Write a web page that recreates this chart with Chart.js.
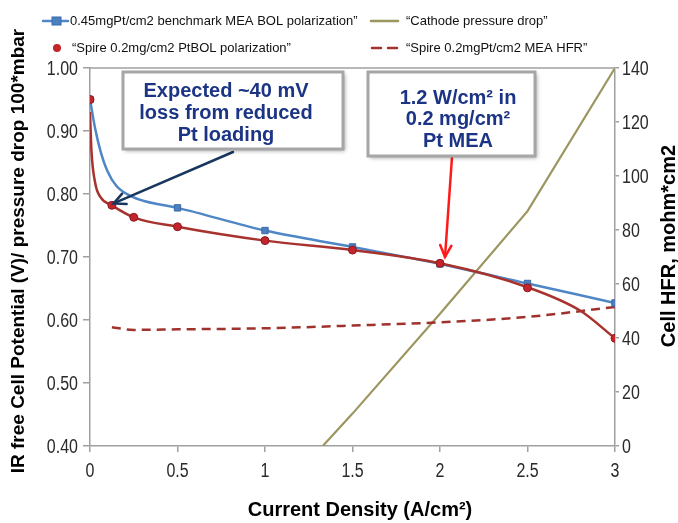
<!DOCTYPE html>
<html><head><meta charset="utf-8">
<script src="https://cdn.jsdelivr.net/npm/chart.js@4.4.1/dist/chart.umd.min.js"></script>
<style>html,body{margin:0;padding:0;background:#fff}#wrap{width:678px;height:523px;position:relative}</style>
</head><body><div id="wrap"><canvas id="c" width="678" height="523"></canvas></div>
<script>
// ---- data ----
const xTicks = [0, 0.5, 1, 1.5, 2, 2.5, 3];
const yLeftTicks = [0.40, 0.50, 0.60, 0.70, 0.80, 0.90, 1.00];
const yRightTicks = [0, 20, 40, 60, 80, 100, 120, 140];

const benchX = [0, 0.03, 0.06, 0.1, 0.15, 0.23, 0.32, 0.5, 1, 1.5, 2, 2.5, 3];
const benchV = [0.95, 0.903, 0.868, 0.836, 0.813, 0.797, 0.788, 0.778, 0.742, 0.716, 0.689, 0.658, 0.627];
const benchMarked = [1, 0, 0, 0, 0, 0, 0, 1, 1, 1, 1, 1, 1];

const spireX = [0, 0.125, 0.25, 0.5, 1, 1.5, 2, 2.5, 3];
const spireV = [0.95, 0.782, 0.763, 0.748, 0.726, 0.711, 0.690, 0.651, 0.571];

const spireFitX = [0, 0.008, 0.03, 0.06, 0.125, 0.25, 0.5, 1, 1.5, 2, 2.5, 2.8, 3];
const spireFitV = [0.93, 0.87, 0.817, 0.795, 0.782, 0.763, 0.748, 0.726, 0.711, 0.690, 0.652, 0.615, 0.571];

const hfrX = [0.125, 0.25, 0.5, 1, 1.5, 2, 2.5, 3];
const hfrV = [44, 43, 43.2, 43.6, 44.6, 45.8, 47.8, 51.5];

const dpX = [1.33, 1.5, 2, 2.5, 3];
const dpV = [0, 12, 49, 87, 140];

const legendLabels = [
  '0.45mgPt/cm2 benchmark MEA BOL polarization\u201D',
  '\u201CCathode pressure drop\u201D',
  '\u201CSpire 0.2mg/cm2 PtBOL polarization\u201D',
  '\u201CSpire 0.2mgPt/cm2 MEA HFR\u201D'
];
const note1 = ['Expected ~40 mV', 'loss from reduced', 'Pt loading'];
const note2 = ['1.2 W/cm\u00B2 in', '0.2 mg/cm\u00B2', 'Pt MEA'];
const xTitle = 'Current Density (A/cm\u00B2)';
const yTitle = 'IR free Cell Potential (V)/ pressure drop 100*mbar';
const y2Title = 'Cell HFR, mohm*cm2';

// ---- styles ----
const BLUE = '#4f86c6', BLUE_M = '#4a7fc0', RED_L = '#a8322d', RED_M = '#c4242c', OLIVE = '#9d9560', HFR = '#a0322e';
const NAVY = '#1c3484';
const zip = (xs, ys) => xs.map((x, i) => ({x, y: ys[i]}));
const tickFont = {family: "'Liberation Sans',Arial,sans-serif", size: 20};
const fmtX = v => String(v), fmtY = v => v.toFixed(2), fmtY2 = v => String(v);

const overlay = {
  id: 'overlay',
  afterDatasetsDraw(chart) {
    const {ctx, chartArea: a, scales} = chart;
    const X = scales.x, Y = scales.y, Y2 = scales.y2;
    ctx.save();
    // top border
    ctx.strokeStyle = '#a0a0a0'; ctx.lineWidth = 1.5;
    ctx.beginPath(); ctx.moveTo(a.left, a.top); ctx.lineTo(a.right, a.top); ctx.stroke();

    // narrow tick labels (condensed horizontally like Arial Narrow)
    ctx.fillStyle = '#2a2a2a';
    ctx.font = "20px 'Liberation Sans', Arial, sans-serif";
    ctx.textBaseline = 'middle';
    function nt(txt, x, y, align) {
      ctx.save(); ctx.translate(x, y); ctx.scale(0.8, 1); ctx.textAlign = align; ctx.fillText(txt, 0, 0); ctx.restore();
    }
    X.ticks.forEach(t => nt(fmtX(t.value), X.getPixelForValue(t.value), 471, 'center'));
    Y.ticks.forEach(t => nt(fmtY(t.value), 78, Y.getPixelForValue(t.value) + 1, 'right'));
    Y2.ticks.forEach(t => nt(fmtY2(t.value), 622, Y2.getPixelForValue(t.value) + 1, 'left'));

    // arrows
    function arrow(x1, y1, x2, y2, color, w) {
      ctx.strokeStyle = color; ctx.lineWidth = w; ctx.lineCap = 'round';
      ctx.beginPath(); ctx.moveTo(x1, y1); ctx.lineTo(x2, y2); ctx.stroke();
      const ang = Math.atan2(y2 - y1, x2 - x1), L = 13, s = 0.45;
      ctx.beginPath();
      ctx.moveTo(x2 - L * Math.cos(ang - s), y2 - L * Math.sin(ang - s));
      ctx.lineTo(x2, y2);
      ctx.lineTo(x2 - L * Math.cos(ang + s), y2 - L * Math.sin(ang + s));
      ctx.stroke();
    }
    arrow(233, 152, X.getPixelForValue(0.135), Y.getPixelForValue(0.785), '#17375e', 2.5);
    arrow(452, 157, X.getPixelForValue(2.0) + 5, Y.getPixelForValue(0.70), '#ff1a1a', 2.5);

    // boxes
    function box(x, y, w, h, lines, cx, ly) {
      ctx.save();
      ctx.shadowColor = 'rgba(0,0,0,0.35)'; ctx.shadowBlur = 4; ctx.shadowOffsetX = 2; ctx.shadowOffsetY = 2;
      ctx.fillStyle = '#fff'; ctx.fillRect(x, y, w, h);
      ctx.restore();
      ctx.strokeStyle = '#a6a6a6'; ctx.lineWidth = 3;
      ctx.strokeRect(x, y, w, h);
      ctx.fillStyle = NAVY; ctx.font = "bold 20px 'Liberation Sans', Arial, sans-serif";
      ctx.textAlign = 'center'; ctx.textBaseline = 'middle';
      lines.forEach((t, i) => ctx.fillText(t, cx, ly[i]));
    }
    box(123, 72, 220, 77, note1, 226, [91, 113, 135]);
    box(368, 72, 167, 84, note2, 458, [98, 119, 141]);

    // axis titles
    ctx.fillStyle = '#000';
    ctx.font = "bold 19px 'Liberation Sans', Arial, sans-serif";
    ctx.textAlign = 'center'; ctx.textBaseline = 'middle';
    ctx.save(); ctx.translate(19, 251); ctx.rotate(-Math.PI / 2); ctx.fillText(yTitle, 0, 0); ctx.restore();
    ctx.font = "bold 20px 'Liberation Sans', Arial, sans-serif";
    ctx.save(); ctx.translate(669, 246); ctx.rotate(-Math.PI / 2); ctx.fillText(y2Title, 0, 0); ctx.restore();
    ctx.fillText(xTitle, 360, 510);

    // legend
    ctx.font = "13px 'Liberation Sans', Arial, sans-serif";
    ctx.textAlign = 'left'; ctx.fillStyle = '#111';
    const r1 = 21, r2 = 48;
    ctx.strokeStyle = BLUE; ctx.lineWidth = 2.5;
    ctx.beginPath(); ctx.moveTo(43, r1); ctx.lineTo(68, r1); ctx.stroke();
    ctx.fillStyle = BLUE_M; ctx.strokeStyle = '#3a6aa8'; ctx.lineWidth = 1;
    ctx.fillRect(52, r1 - 4, 9, 8); ctx.strokeRect(52, r1 - 4, 9, 8);
    ctx.fillStyle = '#111'; ctx.fillText(legendLabels[0], 70, r1);
    ctx.strokeStyle = OLIVE; ctx.lineWidth = 2.5;
    ctx.beginPath(); ctx.moveTo(371, r1); ctx.lineTo(398, r1); ctx.stroke();
    ctx.fillText(legendLabels[1], 406, r1);
    ctx.fillStyle = RED_M; ctx.beginPath(); ctx.arc(57, r2, 4, 0, Math.PI * 2); ctx.fill();
    ctx.fillStyle = '#111'; ctx.fillText(legendLabels[2], 72, r2);
    ctx.strokeStyle = HFR; ctx.lineWidth = 2.5;
    ctx.beginPath(); ctx.moveTo(372, r2); ctx.lineTo(381, r2); ctx.moveTo(388, r2); ctx.lineTo(397, r2); ctx.stroke();
    ctx.fillText(legendLabels[3], 406, r2);
    ctx.restore();
  }
};

new Chart(document.getElementById('c'), {
  type: 'line',
  data: {
    datasets: [
      {label: 'pd', data: zip(dpX, dpV), yAxisID: 'y2', borderColor: OLIVE, borderWidth: 2.2, pointRadius: 0, tension: 0, order: 5},
      {label: 'hfr', data: zip(hfrX, hfrV), yAxisID: 'y2', borderColor: HFR, borderWidth: 2.5, borderDash: [9, 6], pointRadius: 0, cubicInterpolationMode: 'monotone', order: 4},
      {label: 'bench', data: zip(benchX, benchV), yAxisID: 'y', borderColor: BLUE, borderWidth: 2.5,
        pointRadius: benchMarked.map(m => m ? 4.5 : 0), pointStyle: 'rect', pointBackgroundColor: BLUE_M, pointBorderColor: '#3a6aa8', pointBorderWidth: 1,
        cubicInterpolationMode: 'monotone', order: 3},
      {label: 'fit', data: zip(spireFitX, spireFitV), yAxisID: 'y', borderColor: RED_L, borderWidth: 2.5, pointRadius: 0, cubicInterpolationMode: 'monotone', order: 2},
      {label: 'spire', data: zip(spireX, spireV), yAxisID: 'y', showLine: false, pointRadius: 4, pointStyle: 'circle',
        pointBackgroundColor: RED_M, pointBorderColor: '#8a1a22', pointBorderWidth: 1, order: 1}
    ]
  },
  options: {
    responsive: false, animation: false, devicePixelRatio: 1,
    layout: {padding: {top: 68, left: 0, right: 0, bottom: 0}},
    plugins: {legend: {display: false}, tooltip: {enabled: false}},
    scales: {
      x: {type: 'linear', position: 'bottom', min: 0, max: 3,
        afterBuildTicks: s => { s.ticks = xTicks.map(v => ({value: v})); },
        afterFit: s => { s.height = 77; },
        ticks: {font: tickFont, color: 'rgba(0,0,0,0)', padding: 4, maxRotation: 0, callback: fmtX},
        grid: {drawOnChartArea: false, tickLength: 6, color: '#a0a0a0', lineWidth: 1.5},
        border: {color: '#a0a0a0', width: 1.5}},
      y: {type: 'linear', position: 'left', min: 0.4, max: 1.0,
        afterBuildTicks: s => { s.ticks = yLeftTicks.map(v => ({value: v})); },
        afterFit: s => { s.width = 90; },
        ticks: {font: tickFont, color: 'rgba(0,0,0,0)', padding: 4, callback: fmtY},
        grid: {drawOnChartArea: false, tickLength: 7, color: '#a0a0a0', lineWidth: 1.5},
        border: {color: '#a0a0a0', width: 1.5}},
      y2: {type: 'linear', position: 'right', min: 0, max: 140,
        afterBuildTicks: s => { s.ticks = yRightTicks.map(v => ({value: v})); },
        afterFit: s => { s.width = 63; },
        ticks: {font: tickFont, color: 'rgba(0,0,0,0)', padding: 2, callback: fmtY2},
        grid: {drawOnChartArea: false, tickLength: 4, color: '#a0a0a0', lineWidth: 1.5},
        border: {color: '#a0a0a0', width: 1.5}}
    }
  },
  plugins: [overlay]
});
</script></body></html>
